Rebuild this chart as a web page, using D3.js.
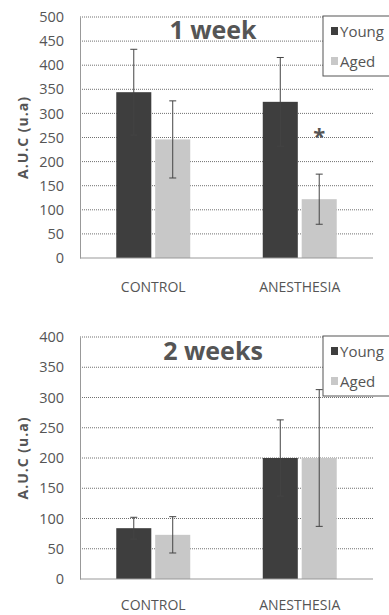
<!DOCTYPE html>
<html>
<head>
<meta charset="utf-8">
<script src="https://cdn.jsdelivr.net/npm/d3@7"></script>
<style>
  html, body { margin: 0; padding: 0; background: #fff; }
  svg { display: block; }
  text { font-family: "Open Sans", "Liberation Sans", sans-serif; fill: #555; }
</style>
</head>
<body>
<svg id="chart" width="389" height="615"></svg>
<script>
// Groups on the x axis and the two series in each group
const categories = ["CONTROL", "ANESTHESIA"];
const seriesNames = ["Young", "Aged"];

// Week 1: mean A.U.C and error (± half-length of the error bar)
const week1Young = [344, 324];
const week1Aged = [246, 122];
const week1YoungErr = [89, 92];
const week1AgedErr = [80, 52];
const week1Ticks = [0, 50, 100, 150, 200, 250, 300, 350, 400, 450, 500];

// Week 2
const week2Young = [84, 200];
const week2Aged = [73, 200];
const week2YoungErr = [18, 63];
const week2AgedErr = [30, 113];
const week2Ticks = [0, 50, 100, 150, 200, 250, 300, 350, 400];

const colors = { Young: "#3e3e3e", Aged: "#c8c8c8" };

const svg = d3.select("#chart");

function drawPanel(opts) {
  const { title, young, aged, youngErr, agedErr, ticks, top, bottom, titleY, legendY, labelOffset, sigIndex } = opts;
  const left = 80, right = 373;
  const g = svg.append("g");

  const y = d3.scaleLinear().domain([0, d3.max(ticks)]).range([bottom, top]);
  const x0 = d3.scaleBand().domain(categories).range([left, right])
    .paddingInner(0.495).paddingOuter(0.2475);
  const x1 = d3.scaleBand().domain(seriesNames).range([0, x0.bandwidth()]).paddingInner(0.1);

  // dotted horizontal gridlines
  g.append("g").selectAll("line").data(ticks.filter(t => t > 0)).join("line")
    .attr("x1", left).attr("x2", right)
    .attr("y1", d => y(d)).attr("y2", d => y(d))
    .attr("stroke", "#707070").attr("stroke-width", 1)
    .attr("stroke-dasharray", "1,1");

  // value axis
  const axis = g.append("g").attr("transform", `translate(${left},0)`)
    .call(d3.axisLeft(y).tickValues(ticks).tickSize(0).tickPadding(16));
  axis.select(".domain").attr("stroke", "#999");
  axis.selectAll("text").attr("font-size", 14.5).attr("fill", "#555")
    .style("font-family", '"Open Sans", sans-serif');

  // bars
  const rows = categories.map((c, i) => ({
    cat: c,
    items: [
      { s: "Young", v: young[i], e: youngErr[i] },
      { s: "Aged", v: aged[i], e: agedErr[i] }
    ]
  }));
  const grp = g.append("g").selectAll("g").data(rows).join("g")
    .attr("transform", d => `translate(${x0(d.cat)},0)`);
  grp.selectAll("rect").data(d => d.items).join("rect")
    .attr("x", d => x1(d.s)).attr("width", x1.bandwidth())
    .attr("y", d => y(d.v)).attr("height", d => y(0) - y(d.v))
    .attr("fill", d => colors[d.s]);

  // error bars
  const eb = grp.selectAll("g.err").data(d => d.items).join("g").attr("class", "err")
    .attr("transform", d => `translate(${x1(d.s) + x1.bandwidth() / 2},0)`);
  eb.append("line").attr("x1", 0).attr("x2", 0)
    .attr("y1", d => y(d.v + d.e)).attr("y2", d => y(d.v - d.e))
    .attr("stroke", "#444").attr("stroke-width", 1);
  eb.selectAll("line.cap").data(d => [d.v + d.e, d.v - d.e]).join("line").attr("class", "cap")
    .attr("x1", -3.5).attr("x2", 3.5).attr("y1", d => y(d)).attr("y2", d => y(d))
    .attr("stroke", "#444").attr("stroke-width", 1);

  // baseline
  g.append("line").attr("x1", left).attr("x2", right)
    .attr("y1", y(0)).attr("y2", y(0)).attr("stroke", "#999");

  // category labels
  g.append("g").selectAll("text").data(categories).join("text")
    .attr("x", d => x0(d) + x0.bandwidth() / 2).attr("y", bottom + labelOffset)
    .attr("text-anchor", "middle").attr("font-size", 14).text(d => d);

  // significance marker
  if (sigIndex != null) {
    g.append("text")
      .attr("x", x0(categories[sigIndex]) + x1("Aged") + x1.bandwidth() / 2)
      .attr("y", y(opts.sigValue))
      .attr("text-anchor", "middle").attr("font-size", 22).attr("font-weight", "bold")
      .attr("fill", "#333").text("*");
  }

  // title
  g.append("text").attr("x", 213).attr("y", titleY).attr("text-anchor", "middle")
    .attr("font-size", 25).attr("font-weight", "bold").attr("fill", "#1e1e1e").text(title);

  // y axis title
  g.append("text")
    .attr("transform", `translate(28,${(top + bottom) / 2}) rotate(-90)`)
    .attr("text-anchor", "middle").attr("font-size", 14).attr("font-weight", "bold")
    .attr("letter-spacing", 1).attr("fill", "#444").text("A.U.C (u.a)");

  // legend
  const lg = g.append("g").attr("transform", `translate(323,${legendY})`);
  lg.append("rect").attr("x", 0).attr("y", 0).attr("width", 80).attr("height", 60)
    .attr("fill", "#fff").attr("stroke", "#555").attr("stroke-width", 1);
  const li = lg.selectAll("g").data(seriesNames).join("g")
    .attr("transform", (d, i) => `translate(8,${15 + i * 30})`);
  li.append("rect").attr("x", 0).attr("y", -4).attr("width", 7).attr("height", 8)
    .attr("fill", d => colors[d]);
  li.append("text").attr("x", 9).attr("y", 5.5).attr("font-size", 15).attr("fill", "#505050").text(d => d);
}

drawPanel({
  title: "1 week", young: week1Young, aged: week1Aged,
  youngErr: week1YoungErr, agedErr: week1AgedErr, ticks: week1Ticks,
  top: 17, bottom: 258, titleY: 39, legendY: 16, labelOffset: 34,
  sigIndex: 1, sigValue: 236
});

drawPanel({
  title: "2 weeks", young: week2Young, aged: week2Aged,
  youngErr: week2YoungErr, agedErr: week2AgedErr, ticks: week2Ticks,
  top: 337, bottom: 579, titleY: 360, legendY: 336, labelOffset: 31,
  sigIndex: null
});
</script>
</body>
</html>
